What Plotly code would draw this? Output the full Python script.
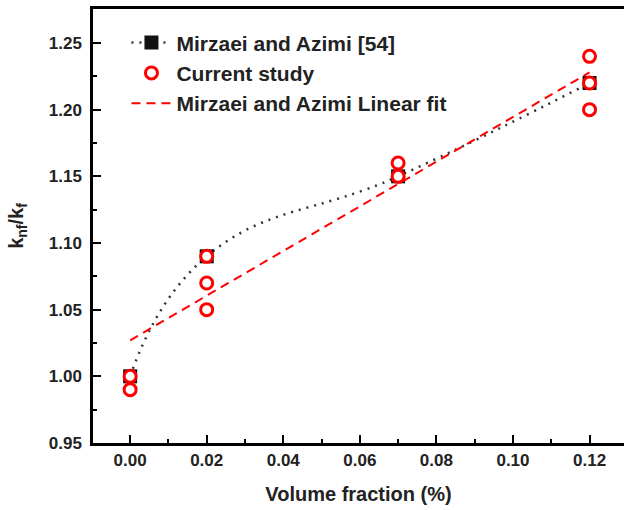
import plotly.graph_objects as go

# Mirzaei and Azimi [54]
ref_x = [0.00, 0.02, 0.07, 0.12]
ref_y = [1.00, 1.09, 1.15, 1.22]

# Current study
cur_x = [0.00, 0.00, 0.02, 0.02, 0.02, 0.07, 0.07, 0.12, 0.12, 0.12]
cur_y = [1.00, 0.99, 1.09, 1.07, 1.05, 1.16, 1.15, 1.24, 1.22, 1.20]

# Linear fit endpoints
fit_x = [0.00, 0.12]
fit_y = [1.027, 1.228]

x_ticks = [0.00, 0.02, 0.04, 0.06, 0.08, 0.10, 0.12]
x_tick_labels = ["0.00", "0.02", "0.04", "0.06", "0.08", "0.10", "0.12"]
y_ticks = [0.95, 1.00, 1.05, 1.10, 1.15, 1.20, 1.25]
y_tick_labels = ["0.95", "1.00", "1.05", "1.10", "1.15", "1.20", "1.25"]

FONT = "Liberation Sans, Arial, sans-serif"
TXT = "#222222"

fig = go.Figure()
fig.add_trace(go.Scatter(
    x=ref_x, y=ref_y, mode="lines+markers", name="Mirzaei and Azimi [54]",
    line=dict(color="#333333", width=2.5, dash="2px,6px", shape="spline", smoothing=1.3),
    marker=dict(symbol="square", size=14, color="#111111"),
))
fig.add_trace(go.Scatter(
    x=cur_x, y=cur_y, mode="markers", name="Current study",
    marker=dict(symbol="circle", size=12, color="white", line=dict(width=3, color="#ff0000")),
))
fig.add_trace(go.Scatter(
    x=fit_x, y=fit_y, mode="lines", name="Mirzaei and Azimi Linear fit",
    line=dict(color="#ff0000", width=2, dash="9px,6px"),
))

fig.update_layout(
    width=624, height=510,
    margin=dict(l=93, r=0, t=9, b=67),
    paper_bgcolor="white", plot_bgcolor="white",
    font=dict(family=FONT, color=TXT),
    showlegend=True,
    legend=dict(x=0.063, y=0.969, xanchor="left", yanchor="top",
                bgcolor="rgba(0,0,0,0)",
                font=dict(size=21, family=FONT, color=TXT, weight="bold"),
                itemwidth=40, tracegroupgap=0),
)
fig.update_xaxes(
    range=[-0.0097, 0.129], tickvals=x_ticks, ticktext=x_tick_labels,
    showgrid=False, zeroline=False, showline=True, linecolor="black", linewidth=2.5,
    mirror=True, ticks="inside", ticklen=8, tickwidth=2, tickcolor="black",
    tickfont=dict(size=17, family=FONT, color=TXT, weight="bold"),
    minor=dict(dtick=0.01, tick0=0.0, ticks="inside", ticklen=4, tickwidth=2, tickcolor="black"),
    title=dict(text="Volume fraction (%)", font=dict(size=20, family=FONT, color=TXT, weight="bold"), standoff=18),
)
fig.update_yaxes(
    range=[0.95, 1.2755], tickvals=y_ticks, ticktext=y_tick_labels,
    showgrid=False, zeroline=False, showline=True, linecolor="black", linewidth=2.5,
    mirror=False, ticks="inside", ticklen=8, tickwidth=2, tickcolor="black",
    ticklabelstandoff=5,
    tickfont=dict(size=17, family=FONT, color=TXT, weight="bold"),
    minor=dict(dtick=0.025, tick0=0.95, ticks="inside", ticklen=4, tickwidth=2, tickcolor="black"),
    title=dict(text="k<sub>nf</sub>/k<sub>f</sub>", font=dict(size=20, family=FONT, color=TXT, weight="bold"), standoff=20),
)

fig.write_html("out.html")
